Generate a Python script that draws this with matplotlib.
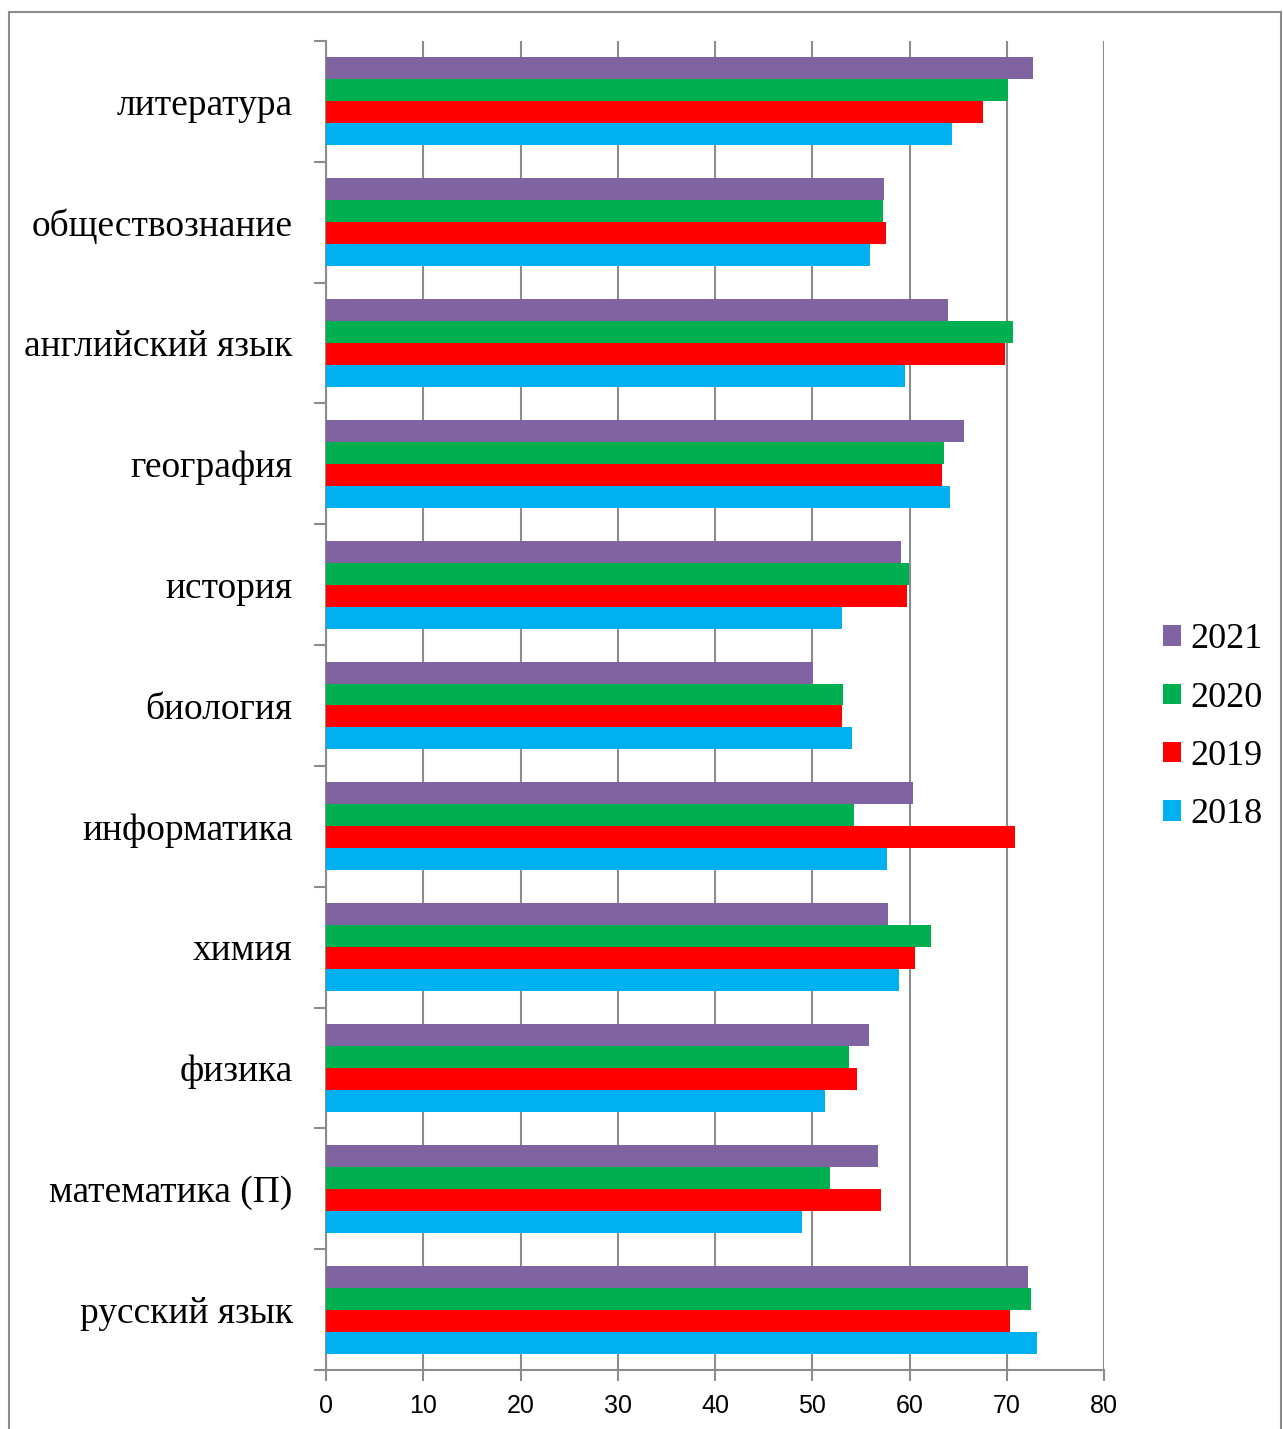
import matplotlib.pyplot as plt
import numpy as np
from matplotlib.lines import Line2D

# Предметы (снизу вверх, как на диаграмме)
subjects = ["русский язык", "математика (П)", "физика", "химия", "информатика",
            "биология", "история", "география", "английский язык",
            "обществознание", "литература"]
years = ["2018", "2019", "2020", "2021"]

v2018 = [73.1, 48.9, 51.3, 58.9, 57.7, 54.1, 53.1, 64.2, 59.5, 55.9, 64.4]
v2019 = [70.3, 57.1, 54.6, 60.6, 70.8, 53.1, 59.7, 63.3, 69.8, 57.6, 67.6]
v2020 = [72.5, 51.8, 53.8, 62.2, 54.3, 53.2, 59.9, 63.5, 70.6, 57.3, 70.1]
v2021 = [72.2, 56.8, 55.8, 57.8, 60.4, 50.1, 59.1, 65.6, 64.0, 57.4, 72.7]

colors = ["#00B0F0", "#FF0000", "#00B050", "#8064A2"]
grid_c = "#8c8c8c"

fig = plt.figure(figsize=(12.83, 14.29), dpi=100)
ax = fig.add_axes([0.2541, 0.0413, 0.6064, 0.93])

y = np.arange(len(subjects))
h = 0.182
series = [v2018, v2019, v2020, v2021]
bars = []
for i, (vals, c) in enumerate(zip(series, colors)):
    b = ax.barh(y + (i - 1.5) * h, vals, height=h, color=c, zorder=3)
    bars.append(b)

ax.set_xlim(0, 80)
ax.set_ylim(-0.5, len(subjects) - 0.5)
ax.set_xticks(np.arange(0, 81, 10))
ax.tick_params(axis="x", direction="out", length=8, width=1.5, color=grid_c,
               labelsize=18, pad=9)
for lab in ax.get_xticklabels():
    lab.set_family("Liberation Sans")

ax.set_yticks(np.arange(-0.5, len(subjects), 1.0))
ax.set_yticklabels([])
ax.set_yticks(y, minor=True)
ax.set_yticklabels(subjects, minor=True, family="Liberation Serif", fontsize=27)
ax.tick_params(axis="y", which="major", direction="out", length=9, width=1.5,
               color=grid_c)
ax.tick_params(axis="y", which="minor", length=0, pad=24)

ax.grid(axis="x", color=grid_c, linewidth=1.5, zorder=0)
for s in ["top", "right"]:
    ax.spines[s].set_visible(False)
for s in ["left", "bottom"]:
    ax.spines[s].set_color(grid_c)
    ax.spines[s].set_linewidth(1.5)

leg = fig.legend(bars[::-1], years[::-1], loc="center left",
                 bbox_to_anchor=(0.881, 0.491), frameon=False,
                 prop={"family": "Liberation Serif", "size": 26},
                 handlelength=0.5, handleheight=0.5, handletextpad=0.25,
                 labelspacing=0.7)

# рамка вокруг рисунка
fig.add_artist(Line2D([0.007, 0.007], [0, 0.9916], color=grid_c, lw=1.5))
fig.add_artist(Line2D([0.007, 0.9984], [0.9916, 0.9916], color=grid_c, lw=1.5))
fig.add_artist(Line2D([0.9984, 0.9984], [0, 0.9916], color=grid_c, lw=1.5))

fig.savefig("out.png", dpi=100)
